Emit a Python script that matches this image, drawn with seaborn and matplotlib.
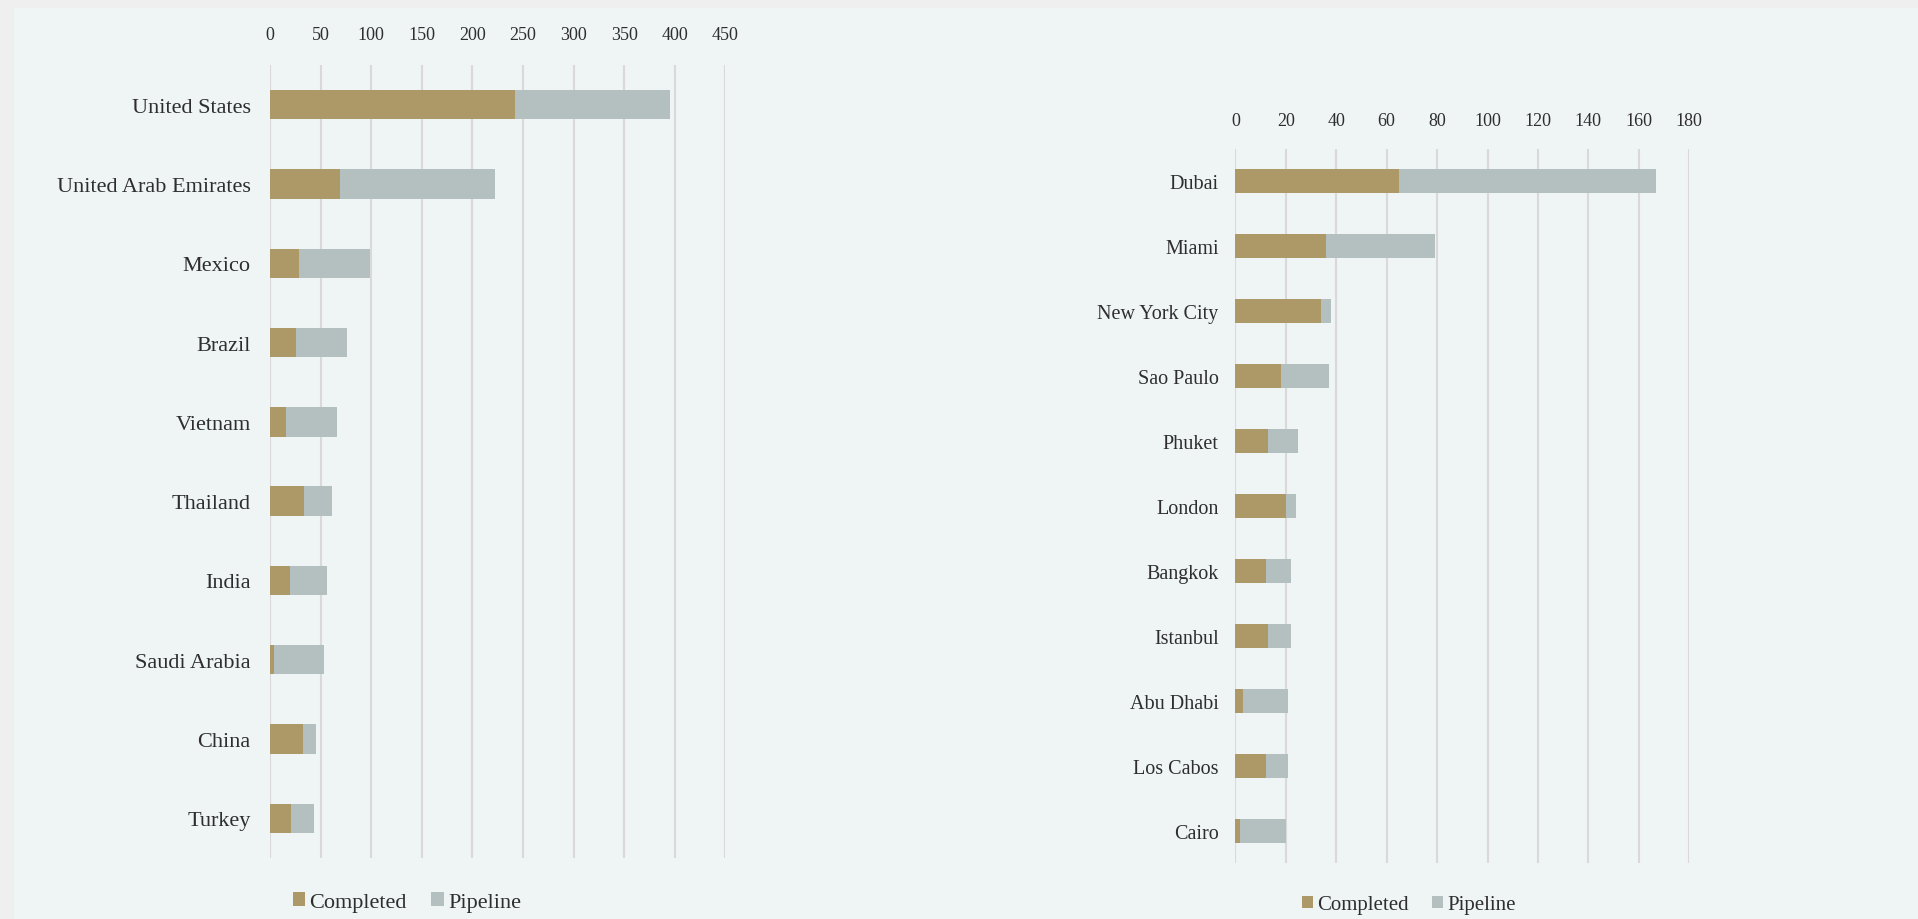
import matplotlib
matplotlib.use("Agg")
import matplotlib.pyplot as plt
from matplotlib.patches import Rectangle
import seaborn as sns

# country data
countries = ["United States", "United Arab Emirates", "Mexico", "Brazil", "Vietnam",
             "Thailand", "India", "Saudi Arabia", "China", "Turkey"]
countries_completed = [242, 69, 29, 26, 16, 34, 20, 4, 33, 21]
countries_pipeline = [153, 153, 70, 50, 50, 27, 36, 49, 12, 22]
countries_ticks = [0, 50, 100, 150, 200, 250, 300, 350, 400, 450]

# city data
cities = ["Dubai", "Miami", "New York City", "Sao Paulo", "Phuket", "London",
          "Bangkok", "Istanbul", "Abu Dhabi", "Los Cabos", "Cairo"]
cities_completed = [65, 36, 34, 18, 13, 20, 12, 13, 3, 12, 2]
cities_pipeline = [102, 43, 4, 19, 12, 4, 10, 9, 18, 9, 18]
cities_ticks = [0, 20, 40, 60, 80, 100, 120, 140, 160, 180]

COL_DONE = "#AD9967"
COL_PIPE = "#B4BFBF"
GRID = "#D9D9D9"
TEXT = "#2E2E2E"
PANEL = "#EFF4F4"

sns.set_theme(style="white")
plt.rcParams["font.family"] = ["Liberation Serif", "DejaVu Serif"]

fig = plt.figure(figsize=(19.18, 9.2), dpi=100)
fig.patch.set_facecolor("#EFEFEF")
fig.add_artist(Rectangle((14 / 1918, 0), 1, 1 - 9 / 920, transform=fig.transFigure,
                         facecolor=PANEL, edgecolor="none", zorder=-1))


def stacked(ax, names, done, pipe, ticks, tick_pad, label_pad, label_size):
    total = [d + p for d, p in zip(done, pipe)]
    sns.barplot(x=total, y=names, color=COL_PIPE, saturation=1, width=0.37,
                linewidth=0, edgecolor="none", label="Pipeline", ax=ax, zorder=3)
    sns.barplot(x=done, y=names, color=COL_DONE, saturation=1, width=0.37,
                linewidth=0, edgecolor="none", label="Completed", ax=ax, zorder=3)
    ax.set_facecolor("none")
    ax.set_xlim(ticks[0], ticks[-1])
    ax.set_ylim(len(names) - 0.5, -0.5)
    ax.set_xticks(ticks)
    ax.xaxis.tick_top()
    ax.grid(axis="x", color=GRID, linewidth=1.5, zorder=0)
    ax.grid(axis="y", visible=False)
    ax.set_axisbelow(True)
    for s in ax.spines.values():
        s.set_visible(False)
    ax.tick_params(axis="x", length=0, pad=tick_pad, labelsize=13, labelcolor=TEXT)
    ax.tick_params(axis="y", length=0, pad=label_pad, labelsize=label_size, labelcolor=TEXT)
    ax.set_xlabel("")
    ax.set_ylabel("")


ax1 = fig.add_axes([270 / 1918, 1 - 859 / 920, 455.5 / 1918, 793 / 920])
stacked(ax1, countries, countries_completed, countries_pipeline, countries_ticks, 16, 14, 16)

ax2 = fig.add_axes([1235.4 / 1918, 1 - 864.2 / 920, 453.8 / 1918, 714.4 / 920])
stacked(ax2, cities, cities_completed, cities_pipeline, cities_ticks, 14, 12, 14.5)


def add_legend(ax, cx, cy, size):
    h, l = ax.get_legend_handles_labels()
    order = [l.index("Completed"), l.index("Pipeline")]
    ax.legend([h[i] for i in order], [l[i] for i in order], loc="center",
              bbox_to_anchor=(cx / 1918, 1 - cy / 920), bbox_transform=fig.transFigure,
              ncol=2, frameon=False, fontsize=size, handlelength=0.55, handleheight=0.55,
              handletextpad=0.2, columnspacing=1.1, labelcolor=TEXT)


add_legend(ax1, 407, 903, 16)
add_legend(ax2, 1409, 906, 15)

fig.savefig("out.png", dpi=100, facecolor=fig.get_facecolor())
